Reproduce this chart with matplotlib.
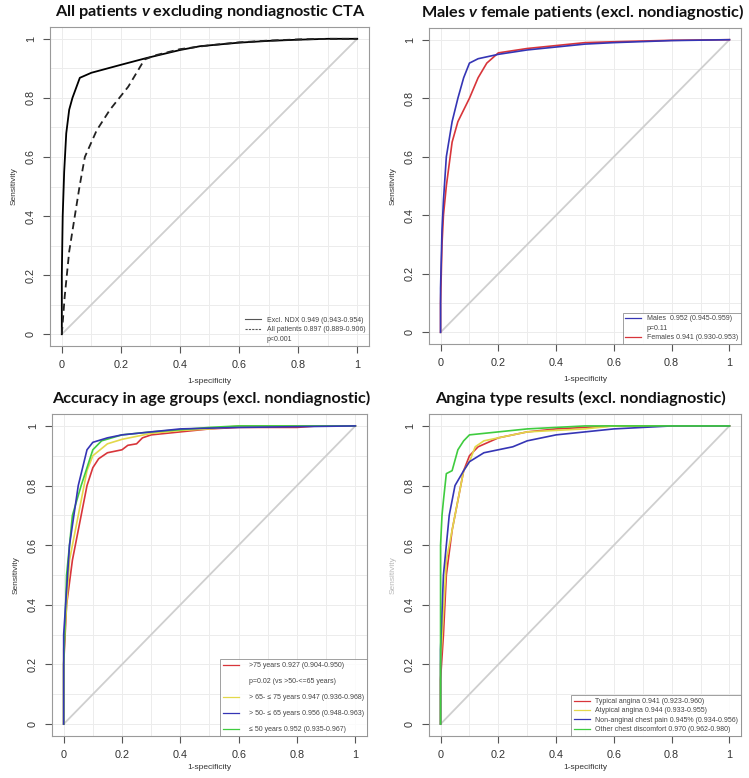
import matplotlib
matplotlib.use("Agg")
import matplotlib.pyplot as plt
from matplotlib.lines import Line2D
import numpy as np

plt.rcParams['font.family'] = ['Liberation Sans', 'DejaVu Sans']
plt.rcParams['mathtext.fontset'] = 'custom'
plt.rcParams['mathtext.it'] = 'Lato:italic:bold'
plt.rcParams['mathtext.rm'] = 'Lato:bold'

# ---------------- data ----------------
# Panel 1: all patients vs excluding nondiagnostic
p1_excl_x = [0, 0.0, 0.003, 0.008, 0.015, 0.025, 0.036, 0.061, 0.1, 0.2, 0.287, 0.4, 0.468, 0.6, 0.7, 0.8, 0.9, 1.0]
p1_excl_y = [0, 0.2, 0.4, 0.55, 0.68, 0.76, 0.80, 0.868, 0.885, 0.912, 0.935, 0.962, 0.975, 0.987, 0.993, 0.997, 1.0, 1.0]
p1_all_x = [0, 0.01, 0.025, 0.044, 0.06, 0.078, 0.118, 0.163, 0.225, 0.28, 0.32, 0.4, 0.5, 0.6, 0.7, 0.8, 0.9, 1.0]
p1_all_y = [0, 0.13, 0.28, 0.40, 0.50, 0.60, 0.69, 0.76, 0.838, 0.93, 0.945, 0.965, 0.978, 0.988, 0.994, 0.998, 1.0, 1.0]

# Panel 2: males vs females
p2_m_x = [0, 0, 0.005, 0.01, 0.02, 0.04, 0.06, 0.08, 0.1, 0.13, 0.2, 0.3, 0.4, 0.5, 0.6, 0.8, 1.0]
p2_m_y = [0, 0.15, 0.35, 0.45, 0.60, 0.72, 0.80, 0.87, 0.92, 0.935, 0.95, 0.965, 0.975, 0.985, 0.99, 0.997, 1.0]
p2_f_x = [0, 0, 0.005, 0.01, 0.02, 0.04, 0.06, 0.1, 0.13, 0.16, 0.2, 0.3, 0.4, 0.5, 0.6, 0.8, 1.0]
p2_f_y = [0, 0.10, 0.30, 0.40, 0.50, 0.65, 0.72, 0.80, 0.87, 0.92, 0.955, 0.97, 0.98, 0.99, 0.993, 0.998, 1.0]

# Panel 3: age groups
p3_75_x = [0, 0, 0.01, 0.03, 0.05, 0.08, 0.1, 0.12, 0.15, 0.2, 0.22, 0.25, 0.27, 0.3, 0.4, 0.5, 0.6, 0.8, 0.87, 1.0]
p3_75_y = [0, 0.2, 0.4, 0.55, 0.65, 0.80, 0.86, 0.89, 0.91, 0.92, 0.935, 0.94, 0.96, 0.97, 0.98, 0.99, 0.995, 0.995, 1.0, 1.0]
p3_65_x = [0, 0, 0.02, 0.05, 0.08, 0.1, 0.15, 0.2, 0.3, 0.4, 0.5, 0.6, 1.0]
p3_65_y = [0, 0.25, 0.55, 0.70, 0.85, 0.90, 0.94, 0.955, 0.975, 0.985, 0.99, 1.0, 1.0]
p3_50_x = [0, 0, 0.02, 0.05, 0.08, 0.1, 0.15, 0.2, 0.3, 0.4, 0.6, 1.0]
p3_50_y = [0, 0.3, 0.60, 0.80, 0.92, 0.945, 0.96, 0.97, 0.98, 0.99, 0.995, 1.0]
p3_le50_x = [0, 0, 0.01, 0.03, 0.06, 0.1, 0.13, 0.2, 0.3, 0.5, 0.6, 1.0]
p3_le50_y = [0, 0.2, 0.50, 0.70, 0.80, 0.92, 0.95, 0.97, 0.98, 0.995, 1.0, 1.0]

# Panel 4: angina type
p4_typ_x = [0, 0, 0.01, 0.02, 0.04, 0.06, 0.08, 0.1, 0.13, 0.2, 0.3, 0.4, 0.6, 1.0]
p4_typ_y = [0, 0.15, 0.30, 0.50, 0.65, 0.75, 0.85, 0.90, 0.93, 0.96, 0.98, 0.99, 1.0, 1.0]
p4_atyp_x = [0, 0, 0.02, 0.05, 0.08, 0.1, 0.12, 0.15, 0.2, 0.3, 0.5, 0.6, 1.0]
p4_atyp_y = [0, 0.2, 0.55, 0.70, 0.85, 0.88, 0.93, 0.95, 0.96, 0.98, 0.99, 1.0, 1.0]
p4_nonang_x = [0, 0, 0.01, 0.03, 0.05, 0.08, 0.1, 0.15, 0.2, 0.25, 0.3, 0.4, 0.5, 0.6, 0.8, 1.0]
p4_nonang_y = [0, 0.25, 0.50, 0.70, 0.80, 0.85, 0.88, 0.91, 0.92, 0.93, 0.95, 0.97, 0.98, 0.99, 1.0, 1.0]
p4_other_x = [0, 0, 0.005, 0.01, 0.02, 0.04, 0.06, 0.08, 0.1, 0.15, 0.2, 0.3, 0.5, 1.0]
p4_other_y = [0, 0.6, 0.70, 0.75, 0.84, 0.85, 0.92, 0.95, 0.97, 0.975, 0.98, 0.99, 1.0, 1.0]

ticks = [0, 0.2, 0.4, 0.6, 0.8, 1]
tick_labels = ['0', '0.2', '0.4', '0.6', '0.8', '1']

titles = [r'All patients $\it{v}$ excluding nondiagnostic CTA',
          r'Males $\it{v}$ female patients (excl. nondiagnostic)',
          'Accuracy in age groups (excl. nondiagnostic)',
          'Angina type results (excl. nondiagnostic)']

RED = '#d8353a'
BLUE = '#3535b5'
GREEN = '#3fcc3f'
YELLOW = '#e3d84a'

W, H = 749, 778
fig = plt.figure(figsize=(W / 100, H / 100), dpi=100)


def add_ax(l, t, w, h):
    return fig.add_axes([l / W, 1 - (t + h) / H, w / W, h / H])


def style(ax, ylab_alpha=1.0, xlabpad=6):
    ax.set_xlim(-0.04, 1.04)
    ax.set_ylim(-0.04, 1.04)
    for v in np.arange(0, 1.01, 0.1):
        ax.axvline(v, color='#ececec', lw=0.7, zorder=0)
        ax.axhline(v, color='#ececec', lw=0.7, zorder=0)
    ax.plot([0, 1], [0, 1], color='#cfcfcf', lw=1.3, zorder=1)
    for s in ax.spines.values():
        s.set_color('#9a9a9a')
        s.set_linewidth(0.8)
    ax.set_xticks(ticks)
    ax.set_xticklabels(tick_labels)
    ax.set_yticks(ticks)
    ax.set_yticklabels(tick_labels, rotation=90, va='center')
    ax.tick_params(axis='both', length=5, width=0.8, color='#555555',
                   labelsize=7.8, labelcolor='#333333', pad=5)
    ax.set_xlabel('1-specificity', fontsize=6, color='#333333', labelpad=xlabpad)
    ax.set_ylabel('Sensitivity', fontsize=6, color='#333333', labelpad=6,
                  alpha=ylab_alpha)


# Panel 1
ax1 = add_ax(50, 27, 319, 319)
style(ax1)
ax1.plot(p1_excl_x, p1_excl_y, color='black', lw=1.3, zorder=3)
ax1.plot(p1_all_x, p1_all_y, color='#222222', lw=1.3, ls=(0, (4, 2.5)), zorder=3)
h1 = [Line2D([], [], color='#555555', lw=0.8),
      Line2D([], [], color='#555555', lw=0.8, ls=(0, (2, 1))),
      Line2D([], [], color='none')]
ax1.legend(h1, ['Excl. NDX 0.949 (0.943-0.954)', 'All patients 0.897 (0.889-0.906)', 'p<0.001'],
           loc='lower right', fontsize=5, frameon=False, handlelength=2.3,
           borderaxespad=0.1, labelspacing=0.35, handletextpad=0.8,
           labelcolor='#444444')

# Panel 2
ax2 = add_ax(429, 28, 312, 316)
style(ax2)
ax2.plot(p2_f_x, p2_f_y, color=RED, lw=1.2, zorder=3)
ax2.plot(p2_m_x, p2_m_y, color=BLUE, lw=1.2, zorder=4)
h2 = [Line2D([], [], color=BLUE, lw=0.9), Line2D([], [], color='none'),
      Line2D([], [], color=RED, lw=0.9)]
lg2 = ax2.legend(h2, ['Males  0.952 (0.945-0.959)', 'p=0.11', 'Females 0.941 (0.930-0.953)'],
                 loc='lower right', fontsize=5, frameon=True, fancybox=False,
                 handlelength=2.3, borderaxespad=0, labelspacing=0.35,
                 handletextpad=0.8, labelcolor='#444444', edgecolor='#888888')
lg2.get_frame().set_linewidth(0.7)

# Panel 3
ax3 = add_ax(52, 414, 315, 322)
style(ax3, xlabpad=3)
ax3.plot(p3_75_x, p3_75_y, color=RED, lw=1.2, zorder=3)
ax3.plot(p3_65_x, p3_65_y, color=YELLOW, lw=1.2, zorder=4)
ax3.plot(p3_le50_x, p3_le50_y, color=GREEN, lw=1.2, zorder=5)
ax3.plot(p3_50_x, p3_50_y, color=BLUE, lw=1.2, zorder=6)
h3 = [Line2D([], [], color=RED, lw=0.9), Line2D([], [], color='none'),
      Line2D([], [], color=YELLOW, lw=0.9), Line2D([], [], color=BLUE, lw=0.9),
      Line2D([], [], color=GREEN, lw=0.9)]
lg3 = ax3.legend(h3, ['>75 years 0.927 (0.904-0.950)', 'p=0.02 (vs >50-<=65 years)',
                      '> 65- \u2264 75 years 0.947 (0.936-0.968)',
                      '> 50- \u2264 65 years 0.956 (0.948-0.963)',
                      '\u2264 50 years 0.952 (0.935-0.967)'],
                 loc='lower right', fontsize=5, frameon=True, fancybox=False,
                 handlelength=2.3, borderaxespad=0, labelspacing=1.3,
                 handletextpad=1.5, labelcolor='#444444', edgecolor='#888888')
lg3.get_frame().set_linewidth(0.7)

# Panel 4
ax4 = add_ax(429, 414, 312, 322)
style(ax4, ylab_alpha=0.35, xlabpad=3)
ax4.plot(p4_typ_x, p4_typ_y, color=RED, lw=1.2, zorder=3)
ax4.plot(p4_atyp_x, p4_atyp_y, color=YELLOW, lw=1.2, zorder=4)
ax4.plot(p4_nonang_x, p4_nonang_y, color=BLUE, lw=1.2, zorder=5)
ax4.plot(p4_other_x, p4_other_y, color=GREEN, lw=1.2, zorder=6)
h4 = [Line2D([], [], color=RED, lw=0.9), Line2D([], [], color=YELLOW, lw=0.9),
      Line2D([], [], color=BLUE, lw=0.9), Line2D([], [], color=GREEN, lw=0.9)]
lg4 = ax4.legend(h4, ['Typical angina 0.941 (0.923-0.960)', 'Atypical angina 0.944 (0.933-0.955)',
                      'Non-anginal chest pain 0.945% (0.934-0.956)',
                      'Other chest discomfort 0.970 (0.962-0.980)'],
                 loc='lower right', fontsize=5, frameon=True, fancybox=False,
                 handlelength=2.3, borderaxespad=0, labelspacing=0.35,
                 handletextpad=0.8, labelcolor='#444444', edgecolor='#888888')
lg4.get_frame().set_linewidth(0.7)

# Titles
title_pos = [(210, 12), (583, 12), (211, 398), (580, 398)]
for t, (x, y) in zip(titles, title_pos):
    fig.text(x / W, 1 - y / H, t, ha='center', va='center', fontsize=11.7,
             family='Lato', weight='bold', color='#111111')

fig.savefig('out.png', dpi=100)
